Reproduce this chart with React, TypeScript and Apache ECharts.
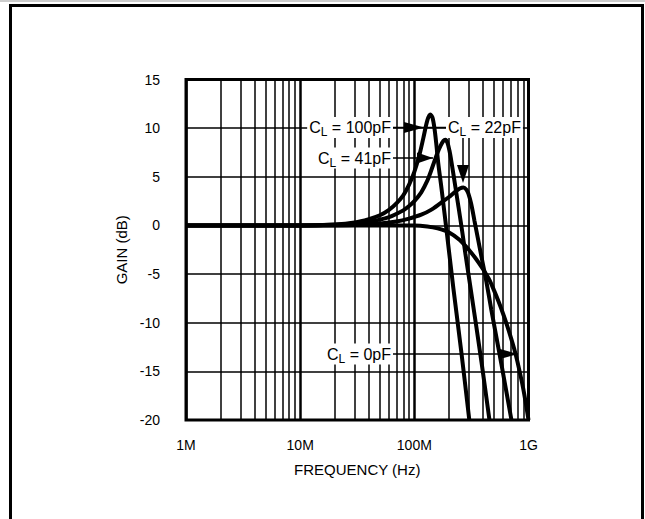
import React, { useEffect, useRef } from "react";
import * as echarts from "echarts";

// ---- data (frequency in MHz, gain in dB) ----
const freqTicksMHz = [1, 10, 100, 1000];
const freqTickLabels = ["1M", "10M", "100M", "1G"];
const minorGridMHz = [2, 3, 4, 5, 6, 7, 8, 9, 20, 30, 40, 50, 60, 70, 80, 90, 200, 300, 400, 500, 600, 700, 800, 900];

const cl0Freq = [1, 10, 50, 100, 130, 160, 200, 250, 300, 350, 400, 450, 500, 550, 600, 650, 700, 750, 800, 900, 1000];
const cl0Gain = [0, 0, 0, 0, -0.1, -0.3, -0.7, -1.5, -2.5, -3.5, -4.5, -5.5, -6.7, -7.9, -9.1, -10.3, -11.5, -12.7, -14, -16.8, -20];

const cl22Freq = [1, 10, 30, 50, 70, 90, 115, 140, 170, 200, 230, 250, 269, 285, 297, 315, 336, 360, 387, 428, 473, 580, 709];
const cl22Gain = [0, 0, 0.05, 0.2, 0.4, 0.7, 1.1, 1.6, 2.3, 2.9, 3.5, 3.8, 3.9, 3.7, 3.3, 2.2, 0.5, -1.3, -3.2, -5.8, -8.7, -14.3, -20];

const cl41Freq = [1, 10, 20, 30, 40, 50, 60, 70, 80, 90, 100, 115, 130, 140, 150, 160, 170, 180, 187, 195, 203, 211, 230, 258, 280, 316, 387, 455];
const cl41Gain = [0, 0, 0.08, 0.2, 0.4, 0.6, 0.85, 1.2, 1.55, 2.0, 2.5, 3.4, 4.6, 5.6, 6.6, 7.5, 8.2, 8.7, 8.8, 8.5, 7.7, 6.6, 3.8, 0, -2.9, -7.0, -14.0, -20];

const cl100Freq = [1, 10, 20, 30, 40, 50, 60, 70, 80, 90, 100, 110, 120, 130, 138, 144, 150, 156, 162, 173, 191, 220, 258, 303];
const cl100Gain = [0, 0, 0.1, 0.3, 0.65, 1.05, 1.6, 2.3, 3.1, 4.2, 5.5, 7.1, 9.0, 10.8, 11.4, 11.1, 10.0, 8.3, 6.4, 3.8, -0.4, -6.5, -13, -20];

const seriesNames = ["CL = 0pF", "CL = 22pF", "CL = 41pF", "CL = 100pF"];
const seriesFreqs = [cl0Freq, cl22Freq, cl41Freq, cl100Freq];
const seriesGains = [cl0Gain, cl22Gain, cl41Gain, cl100Gain];

const FONT = "'Liberation Sans', Arial, Helvetica, sans-serif";

function clLabel(value: string, x: number, y: number, align: string) {
  return {
    type: "text",
    x,
    y,
    z: 100,
    silent: true,
    style: {
      text: `{a|C}{b|L}{a| = ${value}}`,
      align,
      verticalAlign: "middle",
      backgroundColor: "#fff",
      padding: [0, 2, 0, 2],
      rich: {
        a: { fontSize: 16, fontFamily: FONT, fill: "#000", lineHeight: 21 },
        b: { fontSize: 12, fontFamily: FONT, fill: "#000", lineHeight: 12, verticalAlign: "bottom" },
      },
    },
  };
}

function hLine(x1: number, x2: number, y: number) {
  return {
    type: "line",
    z: 99,
    silent: true,
    shape: { x1, y1: y, x2, y2: y },
    style: { stroke: "#000", lineWidth: 1.5 },
  };
}

function tri(points: number[][]) {
  return {
    type: "polygon",
    z: 101,
    silent: true,
    shape: { points },
    style: { fill: "#000" },
  };
}

export default function App() {
  const ref = useRef<HTMLDivElement>(null);

  useEffect(() => {
    if (!ref.current) return;
    const chart = echarts.init(ref.current, undefined, { renderer: "svg" });

    const series: any[] = seriesNames.map((name, i) => ({
      name,
      type: "line",
      data: seriesFreqs[i].map((f, j) => [f, seriesGains[i][j]]),
      showSymbol: false,
      symbol: "none",
      smooth: 0.3,
      lineStyle: { color: "#000", width: 4 },
      z: 5,
      silent: true,
      markLine:
        i === 0
          ? {
              silent: true,
              symbol: ["none", "none"],
              label: { show: false },
              lineStyle: { color: "#000", width: 1.5, type: "solid" },
              data: minorGridMHz.map((v) => ({ xAxis: v })),
            }
          : undefined,
    }));

    chart.setOption({
      animation: false,
      backgroundColor: "#fff",
      grid: {
        left: 186,
        right: 116.5,
        top: 79.5,
        bottom: 99,
        show: true,
        borderColor: "#000",
        borderWidth: 3,
        backgroundColor: "transparent",
      },
      xAxis: {
        type: "log",
        logBase: 10,
        min: 1,
        max: 1000,
        name: "FREQUENCY (Hz)",
        nameLocation: "middle",
        nameGap: 42,
        nameTextStyle: { fontSize: 15, color: "#000", fontFamily: FONT },
        axisLine: { show: false },
        axisTick: { show: false },
        axisLabel: {
          margin: 18,
          fontSize: 14,
          color: "#000",
          fontFamily: FONT,
          formatter: (v: number) => {
            const idx = freqTicksMHz.findIndex((t) => Math.abs(t - v) < 1e-6 * t);
            return idx >= 0 ? freqTickLabels[idx] : "";
          },
        },
        splitLine: { show: true, lineStyle: { color: "#000", width: 2.5 } },
      },
      yAxis: {
        type: "value",
        min: -20,
        max: 15,
        interval: 5,
        name: "GAIN (dB)",
        nameLocation: "middle",
        nameRotate: 90,
        nameGap: 56,
        nameTextStyle: { fontSize: 15, color: "#000", fontFamily: FONT },
        axisLine: { show: false },
        axisTick: { show: false },
        axisLabel: { margin: 26, fontSize: 14, color: "#000", fontFamily: FONT },
        splitLine: { show: true, lineStyle: { color: "#000", width: 1.5 } },
      },
      series,
      graphic: [
        {
          type: "line",
          silent: true,
          shape: { x1: 0, y1: 1, x2: 645, y2: 1 },
          style: { stroke: "#bbb", lineWidth: 1.5 },
        },
        {
          type: "rect",
          silent: true,
          shape: { x: 10.5, y: 5.5, width: 632, height: 600 },
          style: { fill: "none", stroke: "#000", lineWidth: 3 },
        },
        // CL = 100pF label + arrow (leader continues to CL = 22pF label)
        hLine(393, 448, 127.5),
        tri([[404, 122], [424, 127.5], [404, 133]]),
        clLabel("100pF", 393, 127.5, "right"),
        clLabel("22pF", 446, 127.5, "left"),
        // CL = 22pF downward arrow
        {
          type: "line",
          z: 99,
          silent: true,
          shape: { x1: 463, y1: 137, x2: 463, y2: 170 },
          style: { stroke: "#000", lineWidth: 1.5 },
        },
        tri([[457, 165], [469, 165], [463, 183]]),
        // CL = 41pF
        hLine(393, 433, 158),
        tri([[417, 152.5], [433, 158], [417, 163.5]]),
        clLabel("41pF", 393, 158, "right"),
        // CL = 0pF
        hLine(393, 518, 354),
        tri([[500, 349], [518, 354], [500, 359]]),
        clLabel("0pF", 393, 354, "right"),
      ],
    });

    return () => {
      chart.dispose();
    };
  }, []);

  return (
    <div
      ref={ref}
      style={{ position: "absolute", left: 0, top: 0, width: 645, height: 519, background: "#fff" }}
    />
  );
}
